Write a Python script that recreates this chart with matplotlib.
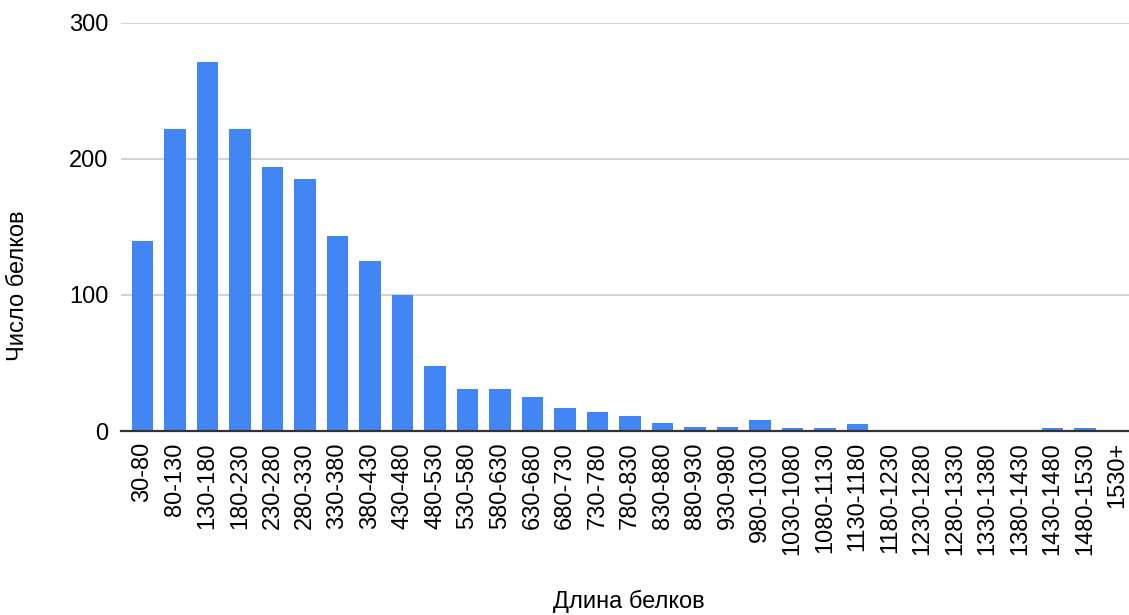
import matplotlib
matplotlib.use("Agg")
import matplotlib.pyplot as plt

# protein length bins and counts
bins = ["30-80", "80-130", "130-180", "180-230", "230-280", "280-330",
        "330-380", "380-430", "430-480", "480-530", "530-580", "580-630",
        "630-680", "680-730", "730-780", "780-830", "830-880", "880-930",
        "930-980", "980-1030", "1030-1080", "1080-1130", "1130-1180",
        "1180-1230", "1230-1280", "1280-1330", "1330-1380", "1380-1430",
        "1430-1480", "1480-1530", "1530+"]
counts = [140, 222, 271, 222, 194, 185, 143, 125, 100, 48, 31, 31,
          25, 17, 14, 11, 6, 3, 3, 8, 2, 2, 5,
          0, 0, 0, 0, 0, 2, 2, 0]

plt.rcParams['font.family'] = ['Liberation Sans', 'DejaVu Sans']

fig = plt.figure(figsize=(11.29, 6.15), dpi=100)
ax = fig.add_axes([0.1072, 0.299, 0.8928, 0.664])

x = list(range(len(bins)))
ax.bar(x, counts, width=0.667, color='#4285F4', zorder=3)

ax.set_ylim(0, 300)
ax.set_xlim(-0.66, 30.35)
ax.set_yticks([0, 100, 200, 300])
ax.set_xticks(x)
ax.set_xticklabels(bins, rotation=90, fontsize=17)
ax.tick_params(axis='y', labelsize=17, length=0, pad=9)
ax.tick_params(axis='x', length=0, pad=8)

ax.grid(axis='y', color='#cccccc', linewidth=1.2, zorder=0)
for s in ['top', 'right', 'left']:
    ax.spines[s].set_visible(False)
ax.spines['bottom'].set_color('#333333')
ax.spines['bottom'].set_linewidth(1.6)
ax.spines['bottom'].set_zorder(4)

ax.set_ylabel("Число белков", fontsize=17)
ax.yaxis.set_label_coords(-0.091, 0.355)
fig.text(0.557, 0.004, "Длина белков", fontsize=17, ha='center', va='bottom')

fig.savefig("out.png", dpi=100)
